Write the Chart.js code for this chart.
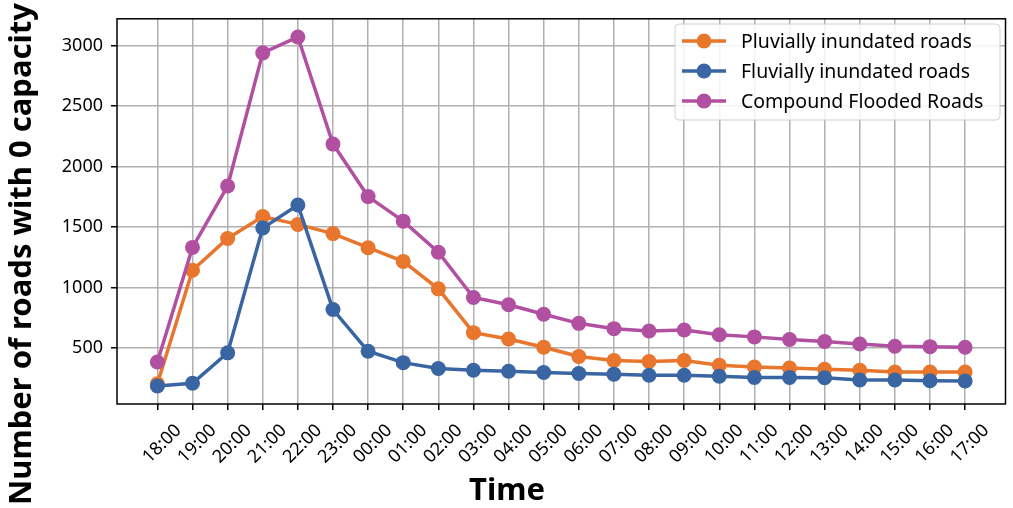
<!DOCTYPE html>
<html>
<head>
<meta charset="utf-8">
<script src="https://cdn.jsdelivr.net/npm/chart.js@4/dist/chart.umd.min.js"></script>
<style>
    html, body { margin: 0; padding: 0; background: #fff; }
    #wrap { width: 1013px; height: 508px; }
</style>
</head>
<body>
<div id="wrap"><canvas id="roads_chart" width="1013" height="508"></canvas></div>
<script>
// values
const timeLabels = ['18:00', '19:00', '20:00', '21:00', '22:00', '23:00', '00:00', '01:00', '02:00', '03:00', '04:00', '05:00',
    '06:00', '07:00', '08:00', '09:00', '10:00', '11:00', '12:00', '13:00', '14:00', '15:00', '16:00', '17:00']
const pluvialRoads = [205, 1144, 1407, 1588, 1523, 1447, 1330, 1217, 990, 628, 575, 507,
    431, 398, 390, 398, 358, 344, 336, 325, 317, 303, 303, 303]
const fluvialRoads = [187, 209, 461, 1493, 1683, 819, 474, 380, 331, 317, 309, 298,
    290, 285, 276, 276, 268, 258, 258, 255, 236, 236, 230, 228]
const compoundRoads = [385, 1333, 1840, 2941, 3073, 2187, 1753, 1550, 1293, 919, 859, 780,
    705, 661, 642, 650, 610, 593, 571, 555, 534, 515, 512, 507]
const yTickValues = [500, 1000, 1500, 2000, 2500, 3000]
const seriesNames = ['Pluvially inundated roads', 'Fluvially inundated roads', 'Compound Flooded Roads']
const seriesColors = ['#e8762d', '#3a65a3', '#b150a1']

const toPoints = (values) => values.map((v, i) => ({ x: i, y: v }))

// frame, axis titles and the in-plot legend
const decorations = {
    id: 'decorations',
    afterDraw(chart) {
        const { ctx, chartArea } = chart
        ctx.save()
        ctx.strokeStyle = '#000'
        ctx.lineWidth = 1.5
        ctx.strokeRect(chartArea.left, chartArea.top, chartArea.right - chartArea.left, chartArea.bottom - chartArea.top)

        ctx.fillStyle = '#000'
        ctx.font = 'bold 31px "Noto Sans"'
        ctx.textAlign = 'center'
        ctx.textBaseline = 'middle'
        ctx.fillText('Time', 507, 491)
        ctx.translate(22, 254)
        ctx.rotate(-Math.PI / 2)
        ctx.fillText('Number of roads with 0 capacity', 0, 0)
        ctx.restore()

        // legend box
        ctx.save()
        const bx = 675, by = 24, bw = 325, bh = 96
        ctx.beginPath()
        ctx.roundRect(bx, by, bw, bh, 4)
        ctx.fillStyle = 'rgba(255,255,255,0.85)'
        ctx.fill()
        ctx.strokeStyle = '#d0d0d0'
        ctx.lineWidth = 1
        ctx.stroke()
        ctx.font = '19.5px "Noto Sans"'
        ctx.textAlign = 'left'
        ctx.textBaseline = 'middle'
        seriesNames.forEach((name, i) => {
            const y = 41 + i * 30
            ctx.strokeStyle = seriesColors[i]
            ctx.lineWidth = 3.5
            ctx.beginPath()
            ctx.moveTo(682, y)
            ctx.lineTo(726, y)
            ctx.stroke()
            ctx.fillStyle = seriesColors[i]
            ctx.beginPath()
            ctx.arc(704, y, 7.5, 0, Math.PI * 2)
            ctx.fill()
            ctx.fillStyle = '#000'
            ctx.fillText(name, 741, y + 1)
        })
        ctx.restore()
    }
}

const ctx = document.querySelector('#roads_chart').getContext('2d')

new Chart(ctx, {
    type: 'line',
    data: {
        datasets: [
            {
                label: seriesNames[0],
                data: toPoints(pluvialRoads),
                borderColor: seriesColors[0],
                backgroundColor: seriesColors[0],
                order: 3
            },
            {
                label: seriesNames[1],
                data: toPoints(fluvialRoads),
                borderColor: seriesColors[1],
                backgroundColor: seriesColors[1],
                order: 2
            },
            {
                label: seriesNames[2],
                data: toPoints(compoundRoads),
                borderColor: seriesColors[2],
                backgroundColor: seriesColors[2],
                order: 1
            }
        ]
    },
    options: {
        responsive: false,
        animation: false,
        elements: {
            line: { borderWidth: 3.5, tension: 0 },
            point: { radius: 7.5, borderWidth: 0, hoverRadius: 7.5 }
        },
        plugins: {
            legend: { display: false },
            tooltip: { enabled: false }
        },
        layout: {
            padding: { left: 0, right: 2, top: 13, bottom: 0 }
        },
        scales: {
            x: {
                type: 'linear',
                min: -1.15,
                max: 24.15,
                afterBuildTicks: (scale) => {
                    scale.ticks = timeLabels.map((_, i) => ({ value: i }))
                },
                afterFit: (scale) => { scale.height = 104 },
                ticks: {
                    autoSkip: false,
                    minRotation: 45,
                    maxRotation: 45,
                    color: '#000',
                    padding: 10,
                    labelOffset: 21,
                    font: { family: 'Noto Sans', size: 18 },
                    callback: (value) => timeLabels[value]
                },
                grid: {
                    color: '#b0b0b0',
                    lineWidth: 1.5,
                    tickColor: '#000',
                    tickLength: 6,
                    tickWidth: 1.5
                },
                border: { display: false }
            },
            y: {
                type: 'linear',
                min: 38,
                max: 3223,
                afterBuildTicks: (scale) => {
                    scale.ticks = yTickValues.map(v => ({ value: v }))
                },
                afterFit: (scale) => { scale.width = 117 },
                ticks: {
                    color: '#000',
                    padding: 8,
                    font: { family: 'Noto Sans', size: 18 },
                    callback: (value) => String(value)
                },
                grid: {
                    color: '#b0b0b0',
                    lineWidth: 1.5,
                    tickColor: '#000',
                    tickLength: 6,
                    tickWidth: 1.5
                },
                border: { display: false }
            }
        }
    },
    plugins: [decorations]
})
</script>
</body>
</html>
